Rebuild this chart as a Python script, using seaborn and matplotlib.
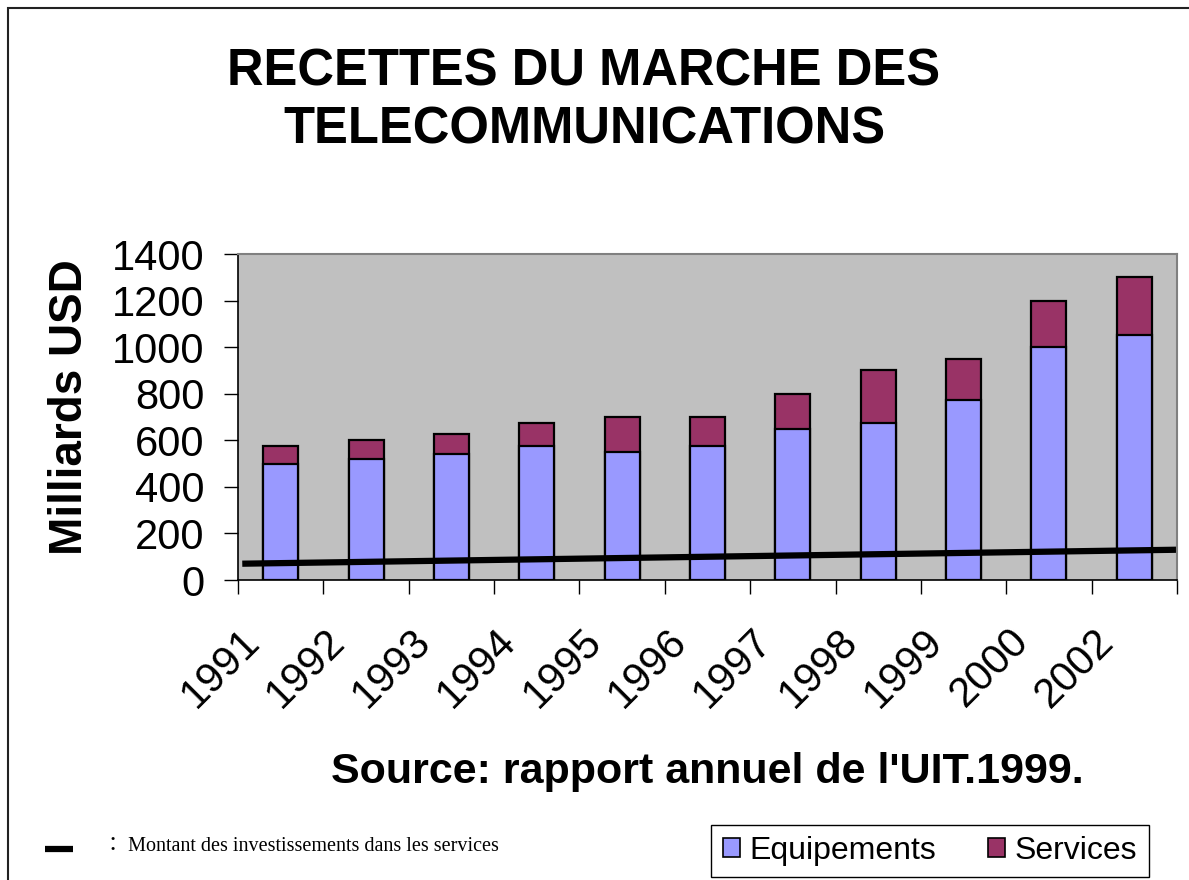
import numpy as np
import pandas as pd
import seaborn as sns
import matplotlib.pyplot as plt
from matplotlib.patches import Patch, Rectangle
from matplotlib.lines import Line2D
from matplotlib.ticker import FixedLocator
from matplotlib.transforms import ScaledTranslation

# chart data (Milliards USD)
years = ["1991", "1992", "1993", "1994", "1995", "1996", "1997", "1998", "1999", "2000", "2002"]
equipements = [500, 520, 540, 575, 550, 575, 650, 675, 775, 1000, 1050]
services = [75, 80, 85, 100, 150, 125, 150, 225, 175, 200, 250]
invest_line = [70, 130]  # montant des investissements, debut / fin

EQUIP_COLOR = "#9999FF"
SERV_COLOR = "#993366"

df = pd.DataFrame({"annee": years, "Equipements": equipements, "Services": services})
df["total"] = df["Equipements"] + df["Services"]

sns.set_style("white")
plt.rcParams["font.family"] = ["Liberation Sans", "DejaVu Sans"]
plt.rcParams["text.color"] = "black"
plt.rcParams["xtick.color"] = "black"
plt.rcParams["ytick.color"] = "black"
plt.rcParams["axes.labelcolor"] = "black"

fig = plt.figure(figsize=(11.89, 8.8), dpi=100)
ax = fig.add_axes([238 / 1189, 1 - 580 / 880, 939 / 1189, 326 / 880])
ax.set_facecolor("#C0C0C0")

# stacked bars: total (services colour) first, then equipements over it
sns.barplot(data=df, x="annee", y="total", color=SERV_COLOR, saturation=1,
            width=0.41, edgecolor="black", linewidth=1.6, ax=ax)
sns.barplot(data=df, x="annee", y="Equipements", color=EQUIP_COLOR, saturation=1,
            width=0.41, edgecolor="black", linewidth=1.6, ax=ax)

ax.set_xlim(-0.5, len(years) - 0.5)
ax.set_ylim(0, 1400)
xl = ax.get_xlim()
ax.plot([xl[0] + 0.05, xl[1]], invest_line, color="black", lw=4.5, solid_capstyle="butt")

ax.set_xlabel("")
ax.set_ylabel("")
ax.set_yticks(np.arange(0, 1401, 200))
ax.tick_params(axis="y", labelsize=30, length=10, width=1, color="black", left=True, pad=14)
ax.tick_params(axis="x", which="major", length=0, labelsize=30, pad=0)
ax.xaxis.set_minor_locator(FixedLocator(np.arange(-0.5, len(years), 1.0)))
ax.tick_params(axis="x", which="minor", length=10, width=1, color="black", bottom=True)
shift = ScaledTranslation(-0.41, -0.41, fig.dpi_scale_trans)
for lab in ax.get_xticklabels():
    lab.set_rotation(45)
    lab.set_ha("right")
    lab.set_va("top")
    lab.set_rotation_mode("anchor")
    lab.set_transform(lab.get_transform() + shift)

for side in ["left", "bottom"]:
    ax.spines[side].set_color("black")
    ax.spines[side].set_linewidth(1.2)
for side in ["top", "right"]:
    ax.spines[side].set_color("#808080")
    ax.spines[side].set_linewidth(1.5)

# outer frame
fig.add_artist(Rectangle((8 / 1189, -0.1), 1.2, 0.1 + 1 - 8 / 880, transform=fig.transFigure,
                         fill=False, edgecolor="#222222", lw=1.5))

# titles and texts
fig.text(584 / 1189, 1 - 85 / 880, "RECETTES DU MARCHE DES", ha="center", va="baseline",
         fontsize=36.5, fontweight="bold")
fig.text(584 / 1189, 1 - 143 / 880, "TELECOMMUNICATIONS", ha="center", va="baseline",
         fontsize=36.5, fontweight="bold")
fig.text(70 / 1189, 1 - 407 / 880, "Milliards USD", rotation=90, ha="center", va="center",
         fontsize=33, fontweight="bold")
fig.text(707 / 1189, 1 - 783 / 880, "Source: rapport annuel de l'UIT.1999.", ha="center",
         va="baseline", fontsize=31, fontweight="bold")

# bottom note
fig.add_artist(Line2D([45 / 1189, 73 / 1189], [1 - 849 / 880] * 2, color="black", lw=4.5,
                      solid_capstyle="butt", transform=fig.transFigure))
fig.text(103 / 1189, 1 - 851 / 880, "： Montant des investissements dans les services",
         ha="left", va="baseline", fontsize=14.5,
         family=["Liberation Serif", "Noto Sans CJK JP", "DejaVu Serif"])

handles = [Patch(facecolor=EQUIP_COLOR, edgecolor="black", lw=1.2, label="Equipements"),
           Patch(facecolor=SERV_COLOR, edgecolor="black", lw=1.2, label="Services")]
leg = fig.legend(handles=handles, loc="center", bbox_to_anchor=(930 / 1189, 1 - 851 / 880),
                 bbox_transform=fig.transFigure, ncol=2, fontsize=23, frameon=True,
                 fancybox=False, edgecolor="black", framealpha=1, handlelength=0.55,
                 handleheight=0.55, handletextpad=0.3, columnspacing=1.6, borderpad=0.35)
leg.get_frame().set_linewidth(1.0)

fig.savefig("out.png", dpi=100, facecolor="white")
